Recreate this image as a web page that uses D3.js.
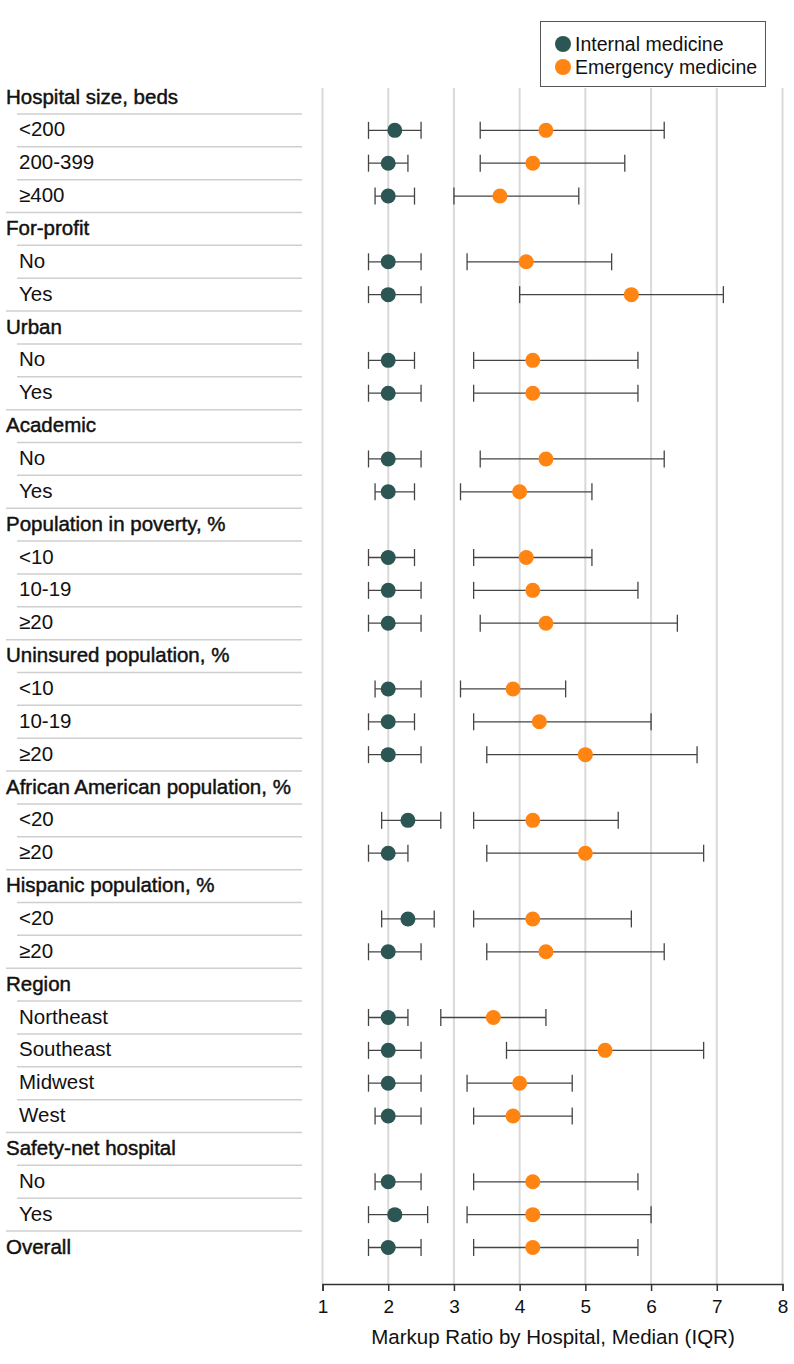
<!DOCTYPE html>
<html>
<head>
<meta charset="utf-8">
<script src="https://cdn.jsdelivr.net/npm/d3@7"></script>
<style>
  html, body { margin: 0; padding: 0; background: #fff; }
  svg text { font-family: "Liberation Sans", Arial, sans-serif; fill: #111; }
</style>
</head>
<body>
<svg id="chart" width="794" height="1364"></svg>
<script>
// ---- Data ----
const categories = [
  "Hospital size, beds", "<200", "200-399", "≥400",
  "For-profit", "No", "Yes",
  "Urban", "No", "Yes",
  "Academic", "No", "Yes",
  "Population in poverty, %", "<10", "10-19", "≥20",
  "Uninsured population, %", "<10", "10-19", "≥20",
  "African American population, %", "<20", "≥20",
  "Hispanic population, %", "<20", "≥20",
  "Region", "Northeast", "Southeast", "Midwest", "West",
  "Safety-net hospital", "No", "Yes",
  "Overall"
];
const isHeader = [
  1,0,0,0, 1,0,0, 1,0,0, 1,0,0, 1,0,0,0, 1,0,0,0, 1,0,0, 1,0,0, 1,0,0,0,0, 1,0,0, 1
];
const imLow = [
  null,1.7,1.7,1.8, null,1.7,1.7, null,1.7,1.7, null,1.7,1.8, null,1.7,1.7,1.7,
  null,1.8,1.7,1.7, null,1.9,1.7, null,1.9,1.7, null,1.7,1.7,1.7,1.8, null,1.8,1.7, 1.7
];
const imMedian = [
  null,2.1,2.0,2.0, null,2.0,2.0, null,2.0,2.0, null,2.0,2.0, null,2.0,2.0,2.0,
  null,2.0,2.0,2.0, null,2.3,2.0, null,2.3,2.0, null,2.0,2.0,2.0,2.0, null,2.0,2.1, 2.0
];
const imHigh = [
  null,2.5,2.3,2.4, null,2.5,2.5, null,2.4,2.5, null,2.5,2.4, null,2.4,2.5,2.5,
  null,2.5,2.4,2.5, null,2.8,2.3, null,2.7,2.5, null,2.3,2.5,2.5,2.5, null,2.5,2.6, 2.5
];
const emLow = [
  null,3.4,3.4,3.0, null,3.2,4.0, null,3.3,3.3, null,3.4,3.1, null,3.3,3.3,3.4,
  null,3.1,3.3,3.5, null,3.3,3.5, null,3.3,3.5, null,2.8,3.8,3.2,3.3, null,3.3,3.2, 3.3
];
const emMedian = [
  null,4.4,4.2,3.7, null,4.1,5.7, null,4.2,4.2, null,4.4,4.0, null,4.1,4.2,4.4,
  null,3.9,4.3,5.0, null,4.2,5.0, null,4.2,4.4, null,3.6,5.3,4.0,3.9, null,4.2,4.2, 4.2
];
const emHigh = [
  null,6.2,5.6,4.9, null,5.4,7.1, null,5.8,5.8, null,6.2,5.1, null,5.1,5.8,6.4,
  null,4.7,6.0,6.7, null,5.5,6.8, null,5.7,6.2, null,4.4,6.8,4.8,4.8, null,5.8,6.0, 5.8
];
const xTicks = [1, 2, 3, 4, 5, 6, 7, 8];
const seriesNames = ["Internal medicine", "Emergency medicine"];
const seriesColors = ["#2b5654", "#ff8412"];
const xTitle = "Markup Ratio by Hospital, Median (IQR)";

// ---- Layout ----
const svg = d3.select("#chart");
const x = d3.scaleLinear().domain([1, 8]).range([322.5, 782.5]);
const y = d3.scaleLinear().domain([0, categories.length - 1]).range([97.5, 1247.5]);
const step = y(1) - y(0);
const axisY = 1284;
const gridTop = 88;

// gridlines
svg.append("g").selectAll("line").data(xTicks).join("line")
  .attr("x1", d => x(d)).attr("x2", d => x(d))
  .attr("y1", gridTop).attr("y2", axisY)
  .attr("stroke", "#d9d9d9").attr("stroke-width", 2);

// row separators
const sepIdx = d3.range(categories.length - 1);
svg.append("g").selectAll("line").data(sepIdx).join("line")
  .attr("x1", i => isHeader[i + 1] ? 6 : 17)
  .attr("x2", 302)
  .attr("y1", i => y(i) + step / 2).attr("y2", i => y(i) + step / 2)
  .attr("stroke", "#cfcfcf").attr("stroke-width", 1.5);

// row labels
svg.append("g").selectAll("text").data(categories).join("text")
  .attr("x", (d, i) => isHeader[i] ? 6 : 19)
  .attr("y", (d, i) => y(i) + 6)
  .attr("font-size", "20.5px")
  .attr("stroke", (d, i) => isHeader[i] ? "#111" : "none")
  .attr("stroke-width", 0.45)
  .text(d => d);

// error bars + markers
const series = [
  { low: imLow, med: imMedian, high: imHigh, color: seriesColors[0] },
  { low: emLow, med: emMedian, high: emHigh, color: seriesColors[1] }
];
const capH = 8.5;
series.forEach(s => {
  const idx = d3.range(categories.length).filter(i => s.med[i] != null);
  const g = svg.append("g");
  g.selectAll("line.bar").data(idx).join("line").attr("class", "bar")
    .attr("x1", i => x(s.low[i])).attr("x2", i => x(s.high[i]))
    .attr("y1", i => y(i)).attr("y2", i => y(i))
    .attr("stroke", "#444").attr("stroke-width", 1.3);
  g.selectAll("line.capl").data(idx).join("line").attr("class", "capl")
    .attr("x1", i => x(s.low[i])).attr("x2", i => x(s.low[i]))
    .attr("y1", i => y(i) - capH).attr("y2", i => y(i) + capH)
    .attr("stroke", "#444").attr("stroke-width", 1.3);
  g.selectAll("line.caph").data(idx).join("line").attr("class", "caph")
    .attr("x1", i => x(s.high[i])).attr("x2", i => x(s.high[i]))
    .attr("y1", i => y(i) - capH).attr("y2", i => y(i) + capH)
    .attr("stroke", "#444").attr("stroke-width", 1.3);
  g.selectAll("circle").data(idx).join("circle")
    .attr("cx", i => x(s.med[i])).attr("cy", i => y(i))
    .attr("r", 7.5).attr("fill", s.color);
});

// x axis
const axis = d3.axisBottom(x).tickValues(xTicks).tickFormat(d3.format("d"))
  .tickSize(7).tickPadding(9);
const ag = svg.append("g").attr("transform", `translate(0,${axisY})`).call(axis);
ag.select(".domain").attr("stroke", "#333").attr("stroke-width", 1.5);
ag.selectAll(".tick line").attr("stroke", "#333").attr("stroke-width", 1.5);
ag.selectAll(".tick text").attr("font-size", "19px")
  .attr("font-family", '"Liberation Sans", Arial, sans-serif').attr("fill", "#111");

svg.append("text")
  .attr("x", x(4.5) + 0.5).attr("y", 1344)
  .attr("text-anchor", "middle").attr("font-size", "20.5px")
  .text(xTitle);

// legend
const lg = svg.append("g");
lg.append("rect").attr("x", 540.5).attr("y", 21.5).attr("width", 225).attr("height", 65)
  .attr("fill", "#fff").attr("stroke", "#555").attr("stroke-width", 1);
lg.selectAll("circle").data(seriesNames).join("circle")
  .attr("cx", 563).attr("cy", (d, i) => 44 + i * 23).attr("r", 8)
  .attr("fill", (d, i) => seriesColors[i]);
lg.selectAll("text").data(seriesNames).join("text")
  .attr("x", 575).attr("y", (d, i) => 51 + i * 23)
  .attr("font-size", "19.5px").text(d => d);
</script>
</body>
</html>
